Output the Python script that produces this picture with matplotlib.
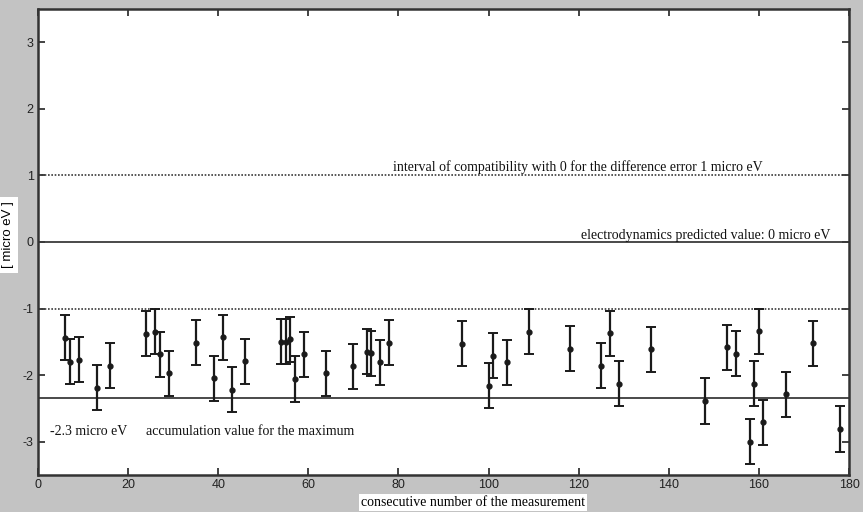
import numpy as np
import matplotlib.pyplot as plt

# measurement number, difference value and its error [micro eV]
meas_no = [6, 7, 9, 13, 16, 24, 26, 27, 29, 35, 39, 41, 43, 46,
           54, 55, 56, 57, 59, 64, 70, 73, 74, 76, 78,
           94, 100, 101, 104, 109, 118, 125, 127, 129, 136,
           148, 153, 155, 158, 159, 160, 161, 166, 172, 178]
diff = [-1.44, -1.80, -1.77, -2.19, -1.86, -1.38, -1.35, -1.69, -1.97, -1.51,
        -2.05, -1.43, -2.22, -1.79,
        -1.50, -1.50, -1.46, -2.06, -1.69, -1.97, -1.87, -1.65, -1.67, -1.81,
        -1.51,
        -1.53, -2.16, -1.71, -1.81, -1.35, -1.60, -1.86, -1.37, -2.13, -1.61,
        -2.39, -1.58, -1.68, -3.00, -2.13, -1.34, -2.71, -2.29, -1.52, -2.81]
err = [0.34] * len(meas_no)

compat_limit = 1.0
predicted = 0.0
accum_value = -2.35

plt.rcParams["font.family"] = ["Liberation Sans", "DejaVu Sans"]
plt.rcParams["axes.unicode_minus"] = False
fig = plt.figure(figsize=(8.63, 5.12), dpi=100, facecolor="#c3c3c3")
ax = fig.add_axes([0.044, 0.0723, 0.9398, 0.9101])
ax.set_facecolor("white")

line_col = "#3a3a3a"
ax.axhline(compat_limit, color=line_col, lw=1.2, ls=(0, (1, 1)))
ax.axhline(-compat_limit, color=line_col, lw=1.2, ls=(0, (1, 1)))
ax.axhline(predicted, color=line_col, lw=1.3)
ax.axhline(accum_value, color=line_col, lw=1.3)

ax.errorbar(meas_no, diff, yerr=err, fmt="o", color="#1a1a1a", ms=3.5,
            elinewidth=1.6, capsize=3.5, capthick=1.4)

serif = ["Liberation Serif", "DejaVu Serif"]
txt = dict(fontsize=10, family=serif, va="center", color="#111")
ax.text(78.7, 1.12, "interval of compatibility with 0 for the difference error 1 micro eV", **txt)
ax.text(175.8, 0.10, "electrodynamics predicted value: 0 micro eV", ha="right", **txt)
ax.text(2.7, -2.85, "-2.3 micro eV", **txt)
ax.text(24, -2.85, "accumulation value for the maximum", **txt)

ax.set_xlim(0, 180)
ax.set_ylim(-3.5, 3.5)
ax.set_xticks(np.arange(0, 181, 20))
ax.set_yticks([-3, -2, -1, 0, 1, 2, 3])
ax.tick_params(direction="in", top=True, right=True, length=5, width=1.2,
               labelsize=9, colors="#222", pad=3)
for s in ax.spines.values():
    s.set_linewidth(1.8)
    s.set_color("#333")

ax.set_xlabel("consecutive number of the measurement", family=serif, fontsize=10,
              bbox=dict(facecolor="white", edgecolor="none", pad=1.5))
ax.xaxis.set_label_coords(0.536, -0.045)
ax.set_ylabel("[ micro eV ]", fontsize=9.5,
              bbox=dict(facecolor="white", edgecolor="none", pad=3))
ax.yaxis.set_label_coords(-0.0296, 0.515)

fig.savefig("out.png", dpi=100, facecolor=fig.get_facecolor())
